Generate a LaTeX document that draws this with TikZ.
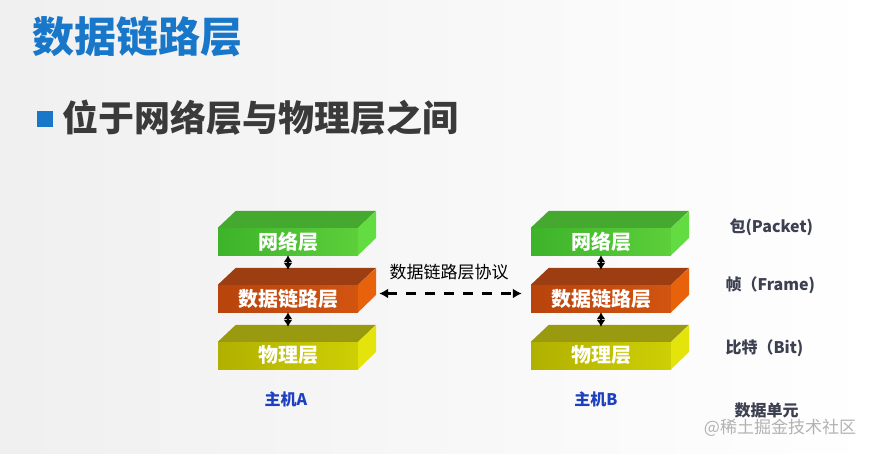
\documentclass[tikz,border=0pt]{standalone}
\usepackage{fontspec}
\newfontfamily\cjk{Noto Sans CJK SC}
\usetikzlibrary{arrows.meta}
\definecolor{netF1}{HTML}{3DB32A}\definecolor{netF2}{HTML}{5CCF3A}
\definecolor{netT}{HTML}{45A92F}\definecolor{netS}{HTML}{62DC40}
\definecolor{dlF1}{HTML}{B8440C}\definecolor{dlF2}{HTML}{D25410}
\definecolor{dlT}{HTML}{9C3E12}\definecolor{dlS}{HTML}{E8620C}
\definecolor{phF1}{HTML}{B0B000}\definecolor{phF2}{HTML}{CFCF05}
\definecolor{phT}{HTML}{9A9A10}\definecolor{phS}{HTML}{E4E40C}
\definecolor{titleblue}{HTML}{1877C9}
\definecolor{hostblue}{HTML}{1E3FC0}
\definecolor{lblgray}{HTML}{3C4050}
\definecolor{subgray}{HTML}{3A3A3A}
\newcommand\layerbox[4]{%
  \node[lay,left color=#3F1,right color=#3F2] (#1) at (#2) {#4};
  \fill[#3T] (#1.north west) -- ++(18,-17) -- ++(140,0) -- (#1.north east) -- cycle;
  \fill[#3S] (#1.north east) -- ++(18,-17) -- ++(0,27) -- (#1.south east) -- cycle;
}
\begin{document}
\begin{tikzpicture}[x=1pt,y=-1pt,
  lay/.style={minimum width=140pt,minimum height=27pt,inner sep=0pt,text=white,
    font=\cjk\bfseries\fontsize{20}{20}\selectfont},
  vlink/.style={{Latex[length=7pt,width=9pt]}-{Latex[length=7pt,width=9pt]},line width=2.5pt},
  proto/.style={{Latex[length=9pt,width=10pt]}-{Latex[length=9pt,width=10pt]},line width=3pt,dash pattern=on 10pt off 9pt},
  host/.style={text=hostblue,font=\cjk\bfseries\fontsize{16}{16}\selectfont},
  unit/.style={anchor=west,text=lblgray,font=\cjk\bfseries\fontsize{16}{16}\selectfont}]
\path[left color=gray!12,right color=white] (0,0) rectangle (876,453);
\useasboundingbox (0,0) rectangle (876,453);
% title
\node[text=titleblue,font=\cjk\bfseries\fontsize{42}{42}\selectfont,anchor=west,inner sep=0pt] (title) at (32,37) {数据链路层};
\node[fill=titleblue,minimum size=16pt,inner sep=0pt] (bullet) at (45,119) {};
\node[text=subgray,font=\cjk\bfseries\fontsize{36}{36}\selectfont,anchor=west,inner sep=0pt] (sub) at (62,118) {位于网络层与物理层之间};
% host A
\layerbox{nA}{288,241.5}{net}{网络层}
\layerbox{dA}{288,298.5}{dl}{数据链路层}
\layerbox{pA}{288,355.5}{ph}{物理层}
% host B
\layerbox{nB}{601,241.5}{net}{网络层}
\layerbox{dB}{601,298.5}{dl}{数据链路层}
\layerbox{pB}{601,355.5}{ph}{物理层}
% vertical links
\draw[vlink] (nA.south) -- ([yshift=15pt]dA.north);
\draw[vlink] (dA.south) -- ([yshift=15pt]pA.north);
\draw[vlink] (nB.south) -- ([yshift=15pt]dB.north);
\draw[vlink] (dB.south) -- ([yshift=15pt]pB.north);
% protocol arrow
\draw[proto] ([xshift=21pt,yshift=5pt]dA.east) -- ([xshift=-9pt,yshift=5pt]dB.west);
\node[text=black,font=\cjk\fontsize{17}{17}\selectfont] (plabel) at (449,272) {数据链路层协议};
% host labels
\node[host] (hA) at (286,399) {主机A};
\node[host] (hB) at (596,399) {主机B};
% data units
\node[unit] (u1) at (726,227) {包(Packet)};
\node[unit] (u2) at (722,285) {帧（Frame)};
\node[unit] (u3) at (722,348) {比特（Bit)};
\node[unit] (u4) at (731,410) {数据单元};
\node[text=gray!60,font=\cjk\fontsize{17}{17}\selectfont] (wm) at (780,428) {@稀土掘金技术社区};
\end{tikzpicture}
\end{document}
